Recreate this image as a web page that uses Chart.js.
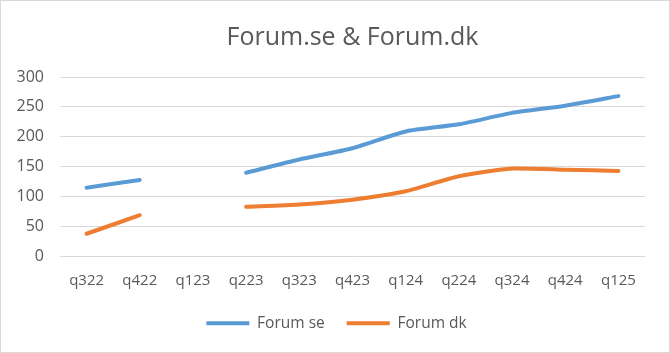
<!DOCTYPE html>
<html><head><meta charset="utf-8">
<script src="https://cdn.jsdelivr.net/npm/chart.js@4/dist/chart.umd.min.js"></script>
<style>
html,body{margin:0;padding:0;background:#fff;}
#wrap{width:668px;height:351px;border:1px solid #d9d9d9;position:relative;}
</style></head><body>
<div id="wrap"><canvas id="c" width="668" height="351"></canvas></div>
<script>
const categories = ["q322","q422","q123","q223","q323","q423","q124","q224","q324","q424","q125"];
const forumSe = [115,128,null,140,162,181,209,221,240,252,268];
const forumDk = [38,69,null,83,87,95,109,134,147,145,143];
const yTicks = [0,50,100,150,200,250,300];

Chart.defaults.font.family = "'Open Sans', 'Liberation Sans', sans-serif";
Chart.defaults.color = '#595959';

const common = {borderWidth:4, pointRadius:0, pointStyle:'line', tension:0.2, borderCapStyle:'round', borderJoinStyle:'round'};
new Chart(document.getElementById('c'), {
  type: 'line',
  data: {
    labels: categories,
    datasets: [
      Object.assign({label:'Forum se', data: forumSe, borderColor:'#5b9bd5', backgroundColor:'#5b9bd5'}, common),
      Object.assign({label:'Forum dk', data: forumDk, borderColor:'#ed7d31', backgroundColor:'#ed7d31'}, common)
    ]
  },
  options: {
    responsive:false, animation:false,
    layout:{padding:{left:3,right:0,top:0,bottom:11}},
    plugins:{
      title:{display:true, fullSize:false, text:'Forum.se & Forum.dk', font:{size:25, weight:'normal'}, color:'#595959', padding:{top:22,bottom:24}},
      legend:{position:'bottom', labels:{usePointStyle:true, pointStyleWidth:43, boxHeight:8, font:{size:15.5}, color:'#595959', padding:22}},
      tooltip:{enabled:false}
    },
    scales:{
      x:{offset:true, grid:{display:false}, border:{display:false},
         afterFit: ax => { ax.height -= 3; },
         ticks:{font:{size:15}, color:'#595959', maxRotation:0, padding:7}},
      y:{min:0, max:300, afterBuildTicks: ax => { ax.ticks = yTicks.map(v=>({value:v})); },
         afterFit: ax => { ax.width = 56; },
         grid:{color:'#d9d9d9', lineWidth:1, drawTicks:false}, border:{display:false},
         ticks:{font:{size:16}, color:'#595959', padding:16}},
      yRight:{position:'right', display:true, grid:{display:false}, border:{display:false},
         ticks:{display:false}, afterFit: ax => { ax.width = 24; }}
    }
  }
});
</script></body></html>
